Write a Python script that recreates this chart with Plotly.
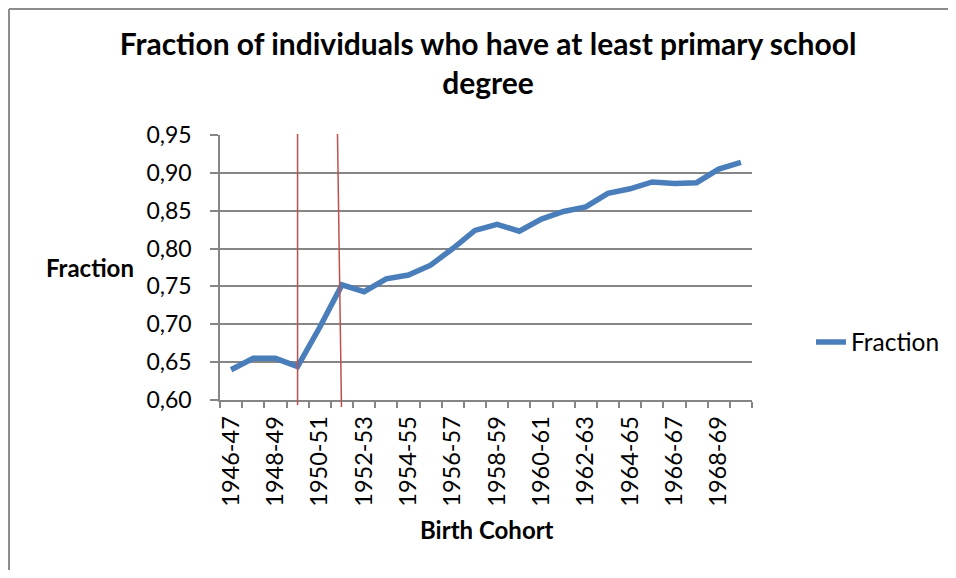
import plotly.graph_objects as go

cohorts = ["1946-47", "1947-48", "1948-49", "1949-50", "1950-51", "1951-52",
           "1952-53", "1953-54", "1954-55", "1955-56", "1956-57", "1957-58",
           "1958-59", "1959-60", "1960-61", "1961-62", "1962-63", "1963-64",
           "1964-65", "1965-66", "1966-67", "1967-68", "1968-69", "1969-70"]
fraction = [0.640, 0.655, 0.655, 0.644, 0.696, 0.752, 0.743, 0.760, 0.765, 0.778,
            0.800, 0.824, 0.832, 0.823, 0.839, 0.849, 0.855, 0.873, 0.879, 0.888,
            0.886, 0.887, 0.905, 0.914]
tick_text = [c if i % 2 == 0 else "" for i, c in enumerate(cohorts)]
y_ticks = [0.60, 0.65, 0.70, 0.75, 0.80, 0.85, 0.90, 0.95]

FONT = "Lato"
GRID = "#868686"
OFF = 8                     # page body margin
W, H = 956 - 2 * OFF, 578 - 2 * OFF


def px(x):
    return (x - OFF) / W


def py(y):
    return 1 - (y - OFF) / H


fig = go.Figure()
fig.add_trace(go.Scatter(
    x=cohorts, y=fraction, mode="lines", name="Fraction",
    line=dict(color="#4a7ebb", width=5.5),
))

fig.update_layout(
    width=W, height=H,
    paper_bgcolor="white", plot_bgcolor="white",
    separators=", ",
    margin=dict(l=0, r=0, t=0, b=0, autoexpand=False),
    font=dict(family=FONT, size=23, color="black"),
    title=dict(
        text="<b>Fraction of individuals who have at least primary school<br>degree</b>",
        x=px(488), xanchor="center", y=py(55), yanchor="top",
        font=dict(family=FONT, size=30, color="black"),
    ),
    showlegend=True,
    legend=dict(x=px(811), xanchor="left", y=py(342), yanchor="middle",
                font=dict(family=FONT, size=24.5), bgcolor="rgba(0,0,0,0)"),
    xaxis=dict(
        domain=[px(220), px(752)], automargin=False,
        type="category", range=[-0.5, len(cohorts) - 0.5],
        tickmode="array", tickvals=cohorts, ticktext=tick_text,
        tickson="boundaries", ticks="outside", ticklen=6, tickcolor=GRID, tickwidth=1.5,
        tickangle=-90, tickfont=dict(family=FONT, size=23.5), ticklabelstandoff=5,
        showline=True, linecolor=GRID, linewidth=1.5,
        showgrid=False, zeroline=False,
    ),
    yaxis=dict(
        domain=[py(400), py(135)], automargin=False,
        range=[0.60, 0.95], tickmode="array", tickvals=y_ticks, tickformat=".2f",
        ticks="outside", ticklen=8, tickcolor=GRID, tickwidth=1.5,
        ticklabelstandoff=14, tickfont=dict(family=FONT, size=23),
        showline=True, linecolor=GRID, linewidth=1.5,
        showgrid=True, gridcolor=GRID, gridwidth=1.5, zeroline=False,
    ),
    annotations=[
        dict(text="<b>Fraction</b>", x=px(89.5), y=py(267), xref="paper", yref="paper",
             xanchor="center", yanchor="middle", showarrow=False,
             font=dict(family=FONT, size=24)),
        dict(text="<b>Birth Cohort</b>", x=px(486.5), y=py(529), xref="paper", yref="paper",
             xanchor="center", yanchor="middle", showarrow=False,
             font=dict(family=FONT, size=24)),
    ],
    shapes=[
        # chart-area border (only its left and top edges fall inside the picture)
        dict(type="line", xref="paper", yref="paper", x0=1 / W, x1=1 / W, y0=0, y1=1 - 1 / H,
             line=dict(color="#8c8c8c", width=2), layer="below"),
        dict(type="line", xref="paper", yref="paper", x0=1 / W, x1=1, y0=1 - 1 / H, y1=1 - 1 / H,
             line=dict(color="#8c8c8c", width=2), layer="below"),
        dict(type="line", xref="x", yref="paper", x0=3, x1=3, y0=py(134), y1=py(405),
             line=dict(color="#c0504d", width=1.5)),
        dict(type="line", xref="x", yref="paper", x0=4.80, x1=4.98, y0=py(134), y1=py(407),
             line=dict(color="#c0504d", width=1.5)),
    ],
)

fig.write_html("out.html")
